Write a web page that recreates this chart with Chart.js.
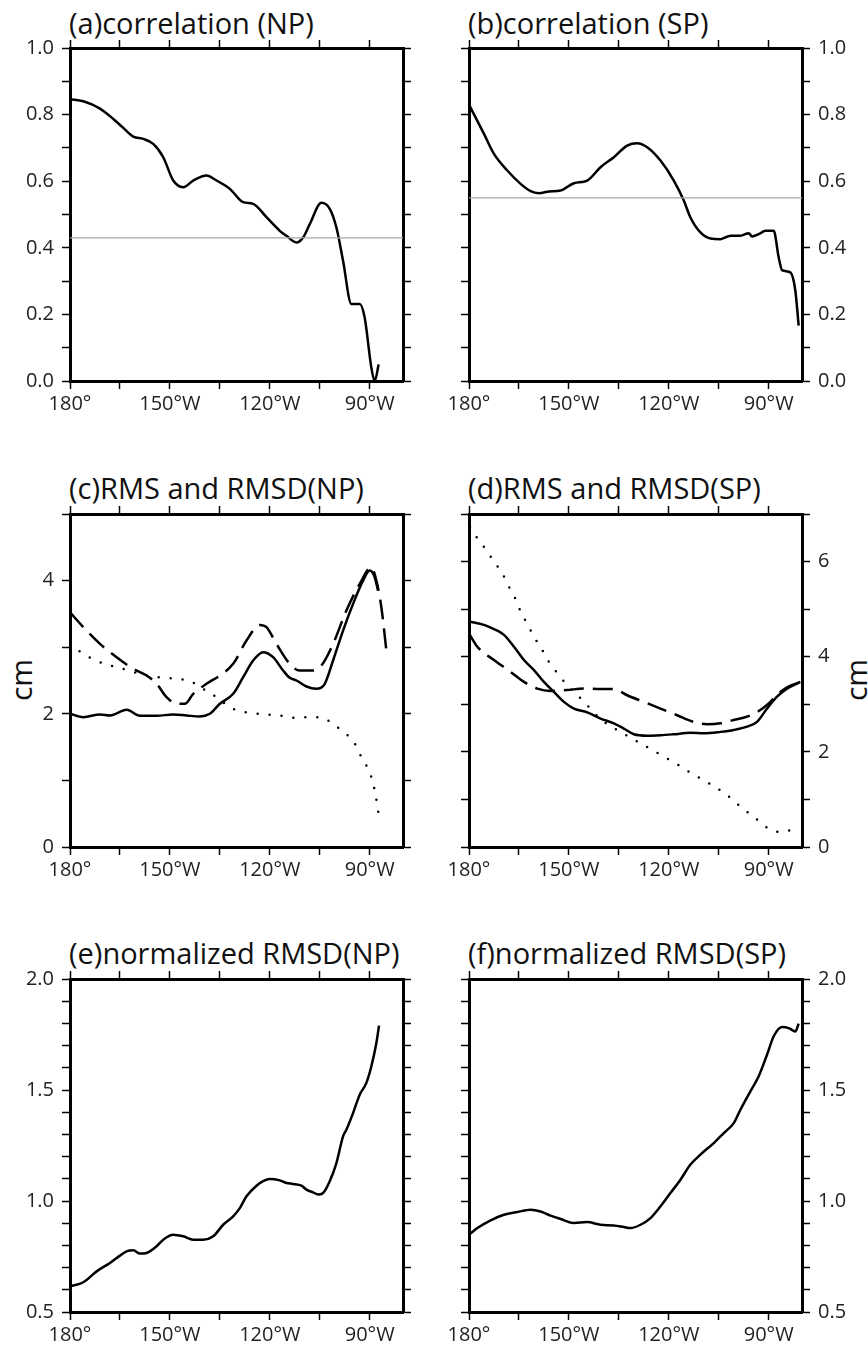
<!DOCTYPE html>
<html>
<head>
<meta charset="utf-8">
<script src="https://cdn.jsdelivr.net/npm/chart.js@4.4.0/dist/chart.umd.min.js"></script>
<style>
    body { margin: 0; background: #fff; width: 868px; height: 1351px; overflow: hidden; position: relative; font-family: 'Open Sans', sans-serif; }
    canvas { position: absolute; }
    .title { position: absolute; font-size: 29px; line-height: 30px; color: #111; white-space: nowrap; }
    .unit { position: absolute; font-size: 30px; line-height: 30px; color: #111; transform: translate(-50%, -50%) rotate(-90deg); }
</style>
</head>
<body>
<div class="title" style="left:69px; top:8px;">(a)correlation (NP)</div>
<div class="title" style="left:468px; top:8px;">(b)correlation (SP)</div>
<div class="title" style="left:69px; top:473px;">(c)RMS and RMSD(NP)</div>
<div class="title" style="left:468px; top:473px;">(d)RMS and RMSD(SP)</div>
<div class="title" style="left:69px; top:938px;">(e)normalized RMSD(NP)</div>
<div class="title" style="left:468px; top:938px;">(f)normalized RMSD(SP)</div>
<div class="unit" style="left:21px; top:680px;">cm</div>
<div class="unit" style="left:856px; top:680px;">cm</div>

<script>
// Longitude in degrees east (180 = 180°, 270 = 90°W)
// (a) correlation NP
const lonCorrNP = [180, 184, 189, 193, 196, 199, 202, 205, 208, 211, 214, 217, 221, 224, 228, 232, 235, 239, 243, 245, 248, 250, 252, 255.5, 258, 260, 262, 264.5, 267, 268.5, 270.5, 271.5, 272.7];
const corrNP = [0.846, 0.840, 0.818, 0.787, 0.760, 0.734, 0.727, 0.712, 0.672, 0.602, 0.582, 0.602, 0.617, 0.602, 0.577, 0.537, 0.532, 0.492, 0.451, 0.436, 0.416, 0.431, 0.471, 0.535, 0.517, 0.461, 0.361, 0.231, 0.231, 0.190, 0.040, 0.000, 0.050];
const corrRefNP = 0.43;

// (b) correlation SP
const lonCorrSP = [180, 184.5, 187.5, 191.5, 195.5, 198.5, 201, 204, 207.5, 211.5, 215.5, 219.5, 223.5, 227.5, 230.5, 233.5, 237.5, 241.5, 244.5, 246.5, 249.5, 252.5, 255.5, 258.5, 261.5, 264, 265, 267, 269, 271.5, 273, 274, 276.5, 278, 279];
const corrSP = [0.830, 0.742, 0.682, 0.632, 0.592, 0.570, 0.564, 0.569, 0.572, 0.594, 0.602, 0.642, 0.672, 0.707, 0.714, 0.702, 0.662, 0.602, 0.542, 0.491, 0.446, 0.428, 0.426, 0.436, 0.436, 0.444, 0.434, 0.441, 0.451, 0.451, 0.371, 0.333, 0.326, 0.271, 0.166];
const corrRefSP = 0.55;

// (c) RMS and RMSD NP
const lonSolidNP = [180, 184, 189, 192, 197, 201, 206, 211, 215, 219, 222, 225, 229, 232, 235, 238, 241, 244, 246, 248, 251, 254, 256.5, 259, 262, 265, 268, 270, 271.5, 272.5];
const solidNP = [2.00, 1.95, 1.99, 1.975, 2.06, 1.97, 1.97, 1.99, 1.975, 1.96, 2.00, 2.15, 2.30, 2.55, 2.80, 2.925, 2.85, 2.65, 2.54, 2.50, 2.41, 2.375, 2.45, 2.80, 3.25, 3.65, 4.00, 4.15, 4.05, 3.85];
const lonDashNP = [180, 184, 189, 194, 199, 203, 206, 209, 212, 214.5, 217, 221, 225, 229, 233, 237, 239, 242, 246, 249, 253, 255.5, 259, 263, 267, 270.5, 272, 273.5, 275];
const dashNP = [3.525, 3.30, 3.05, 2.85, 2.675, 2.575, 2.45, 2.25, 2.15, 2.15, 2.30, 2.45, 2.575, 2.75, 3.10, 3.335, 3.30, 3.05, 2.75, 2.65, 2.65, 2.725, 3.05, 3.55, 3.95, 4.20, 4.00, 3.60, 2.95];
const lonDotNP = [180, 184, 189, 196, 203, 208, 212, 216, 220, 224, 228, 231, 235, 239, 243, 247, 251, 255, 259, 262, 265, 267, 269, 270.5, 271.5, 272.2, 272.8];
const dotNP = [3.05, 2.90, 2.775, 2.675, 2.575, 2.54, 2.525, 2.49, 2.375, 2.25, 2.10, 2.04, 2.01, 1.99, 1.975, 1.94, 1.95, 1.95, 1.85, 1.725, 1.60, 1.40, 1.225, 1.05, 0.85, 0.65, 0.45];

// (d) RMS and RMSD SP
const lonSolidSP = [180, 184.5, 187.5, 190.5, 193.5, 196.5, 199.5, 202.5, 205.5, 208.5, 211.5, 215.5, 219.5, 223.5, 226.5, 229.5, 233.5, 237.5, 241.5, 246.5, 250.5, 255.5, 259.5, 263.5, 266.5, 269.5, 272.5, 275.5, 279.5];
const solidSP = [4.74, 4.67, 4.58, 4.46, 4.21, 3.93, 3.72, 3.47, 3.26, 3.05, 2.91, 2.83, 2.70, 2.60, 2.49, 2.37, 2.34, 2.35, 2.37, 2.40, 2.39, 2.42, 2.46, 2.53, 2.63, 2.91, 3.16, 3.33, 3.47];
const lonDashSP = [180, 182.5, 187.5, 192.5, 196.5, 200.5, 204.5, 209.5, 214.5, 219.5, 223.5, 227.5, 232.5, 237.5, 242.5, 247.5, 251.5, 255.5, 259.5, 263.5, 267.5, 270.5, 273.5, 276.5, 279.5];
const dashSP = [4.49, 4.21, 3.93, 3.68, 3.47, 3.33, 3.28, 3.30, 3.33, 3.32, 3.32, 3.19, 3.05, 2.91, 2.77, 2.63, 2.58, 2.60, 2.67, 2.74, 2.88, 3.05, 3.26, 3.39, 3.46];
const lonDotSP = [180.3, 182.5, 185.5, 187.5, 190, 192, 194, 195.5, 197.5, 199.5, 202, 204, 206.5, 209, 212, 215, 218, 221, 224.5, 228, 232, 235.5, 239.5, 243, 246.5, 250.5, 254, 257.5, 260.5, 263.5, 267, 270.5, 274, 278.5];
const dotSP = [6.72, 6.49, 6.21, 6.00, 5.75, 5.47, 5.21, 4.95, 4.69, 4.42, 4.14, 3.89, 3.66, 3.44, 3.23, 3.02, 2.79, 2.61, 2.46, 2.32, 2.16, 2.02, 1.86, 1.72, 1.56, 1.40, 1.26, 1.09, 0.91, 0.74, 0.55, 0.36, 0.32, 0.39];

// (e) normalized RMSD NP
const lonNormNP = [180, 184, 188, 192, 195, 197, 199, 201, 203, 206, 208, 211, 214, 217, 220, 223, 226, 229, 231, 233, 236, 238, 240, 243, 245, 247, 249.5, 251, 253, 254.5, 256, 258, 260, 262, 263, 265, 267, 269, 270.5, 272, 272.8];
const normNP = [0.616, 0.634, 0.683, 0.721, 0.754, 0.773, 0.778, 0.763, 0.766, 0.796, 0.826, 0.848, 0.841, 0.826, 0.826, 0.841, 0.893, 0.931, 0.968, 1.021, 1.069, 1.089, 1.099, 1.093, 1.081, 1.077, 1.069, 1.051, 1.039, 1.029, 1.036, 1.089, 1.171, 1.291, 1.321, 1.396, 1.479, 1.532, 1.607, 1.712, 1.790];

// (f) normalized RMSD SP
const lonNormSP = [180, 182.5, 186.5, 190.5, 194.5, 198.5, 201.5, 204.5, 207.5, 211.5, 215.5, 219.5, 223.5, 226.5, 228.5, 231.5, 234.5, 237.5, 240.5, 243.5, 246.5, 249.5, 253.5, 256.5, 259.5, 261.5, 264.5, 267, 269.5, 271.5, 274, 276, 278, 279];
const normSP = [0.848, 0.878, 0.913, 0.938, 0.950, 0.961, 0.953, 0.934, 0.919, 0.901, 0.905, 0.893, 0.890, 0.883, 0.878, 0.893, 0.923, 0.976, 1.036, 1.096, 1.164, 1.209, 1.261, 1.306, 1.351, 1.411, 1.494, 1.562, 1.659, 1.742, 1.784, 1.779, 1.764, 1.799];

// Longitude axis ticks (every 15°, labelled every 30°)
const lonTicks = [180, 195, 210, 225, 240, 255, 270];
const lonTickValues = [180, 210, 240, 270];
const lonTickLabels = ['180°', '150°W', '120°W', '90°W'];

// Layout of the panels (plot area top-left corner)
const PLOT = 333;
const M = { l: 70, r: 66, t: 20, b: 40 };
const TICK_FONT = { family: 'Open Sans', size: 20 };

function pts(xs, ys) {
    return xs.map((x, i) => ({ x: x, y: ys[i] }));
}

function lonLabel(v) {
    const i = lonTickValues.indexOf(v);
    return i >= 0 ? lonTickLabels[i] : '';
}

function line(data, style) {
    const ds = {
        data: data,
        borderColor: '#000',
        borderWidth: 2.5,
        pointRadius: 0,
        cubicInterpolationMode: 'monotone',
        fill: false
    };
    if (style === 'dash') {
        ds.borderDash = [20, 9];
    } else if (style === 'dot') {
        ds.borderDash = [0, 12];
        ds.borderCapStyle = 'round';
    } else if (style === 'ref') {
        ds.borderColor = '#a8a8a8';
        ds.borderWidth = 1.2;
    }
    return ds;
}

function axisGrid() {
    return { drawOnChartArea: false, drawTicks: true, tickLength: 8, tickWidth: 1.5, color: '#000' };
}

function makePanel(left, top, yCfg, labelsRight, datasets) {
    const canvas = document.createElement('canvas');
    canvas.width = PLOT + M.l + M.r;
    canvas.height = PLOT + M.t + M.b;
    canvas.style.left = (left - M.l) + 'px';
    canvas.style.top = (top - M.t) + 'px';
    document.body.appendChild(canvas);

    // y ticks: every step, labelled every `every` steps
    const yTicks = [];
    const n = Math.round((yCfg.max - yCfg.min) / yCfg.step);
    for (let k = 0; k <= n; k++) yTicks.push(+(yCfg.min + k * yCfg.step).toFixed(4));

    const yLabel = v => {
        const k = Math.round((v - yCfg.min) / yCfg.step);
        if (k % yCfg.every !== 0) return '';
        return yCfg.digits ? v.toFixed(yCfg.digits) : String(Math.round(v));
    };
    const yAxis = (pos, show) => ({
        type: 'linear', axis: 'y', position: pos, min: yCfg.min, max: yCfg.max,
        ticks: { autoSkip: false, padding: 8, font: TICK_FONT, color: '#222',
                 callback: v => show ? yLabel(v) : '' },
        grid: axisGrid(),
        border: { display: true, width: 3, color: '#000' },
        afterBuildTicks: s => { s.ticks = yTicks.map(v => ({ value: v })); },
        afterFit: s => { s.width = pos === 'left' ? M.l : M.r; }
    });
    const xAxis = (pos, show) => ({
        type: 'linear', axis: 'x', position: pos, min: 180, max: 280,
        ticks: { autoSkip: false, maxRotation: 0, padding: 3, font: TICK_FONT, color: '#222',
                 callback: v => show ? lonLabel(v) : '' },
        grid: axisGrid(),
        border: { display: true, width: 3, color: '#000' },
        afterBuildTicks: s => { s.ticks = lonTicks.map(v => ({ value: v })); },
        afterFit: s => { s.height = pos === 'bottom' ? M.b : M.t; }
    });

    new Chart(canvas.getContext('2d'), {
        type: 'line',
        data: { datasets: datasets },
        options: {
            responsive: false,
            animation: false,
            layout: { padding: 0 },
            plugins: { legend: { display: false }, tooltip: { enabled: false }, title: { display: false } },
            scales: {
                x: xAxis('bottom', true),
                xTop: xAxis('top', false),
                y: yAxis('left', !labelsRight),
                yRight: yAxis('right', labelsRight)
            }
        }
    });
}

document.addEventListener('DOMContentLoaded', function() {
    const corrY = { min: 0, max: 1, step: 0.1, every: 2, digits: 1 };
    const normY = { min: 0.5, max: 2, step: 0.1, every: 5, digits: 1 };

    makePanel(70, 48, corrY, false, [
        line(pts([180, 280], [corrRefNP, corrRefNP]), 'ref'),
        line(pts(lonCorrNP, corrNP), 'solid')
    ]);
    makePanel(469, 48, corrY, true, [
        line(pts([180, 280], [corrRefSP, corrRefSP]), 'ref'),
        line(pts(lonCorrSP, corrSP), 'solid')
    ]);
    makePanel(70, 514, { min: 0, max: 5, step: 1, every: 2, digits: 0 }, false, [
        line(pts(lonDotNP, dotNP), 'dot'),
        line(pts(lonDashNP, dashNP), 'dash'),
        line(pts(lonSolidNP, solidNP), 'solid')
    ]);
    makePanel(469, 514, { min: 0, max: 7, step: 1, every: 2, digits: 0 }, true, [
        line(pts(lonDotSP, dotSP), 'dot'),
        line(pts(lonDashSP, dashSP), 'dash'),
        line(pts(lonSolidSP, solidSP), 'solid')
    ]);
    makePanel(70, 979, normY, false, [
        line(pts(lonNormNP, normNP), 'solid')
    ]);
    makePanel(469, 979, normY, true, [
        line(pts(lonNormSP, normSP), 'solid')
    ]);
});
</script>
</body>
</html>
